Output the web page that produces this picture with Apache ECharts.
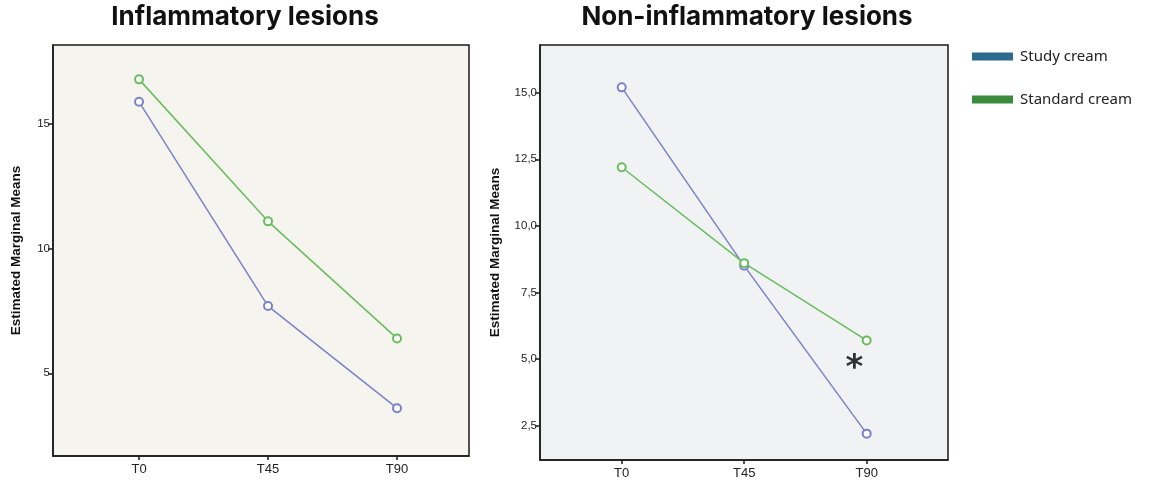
<!DOCTYPE html>
<html>
<head>
<meta charset="utf-8">
<script src="https://cdn.jsdelivr.net/npm/echarts@6/dist/echarts.min.js"></script>
<style>
  html, body { margin: 0; padding: 0; background: #ffffff; }
  #chart { width: 1150px; height: 490px; }
</style>
</head>
<body>
<div id="chart"></div>
<script>
// ---- data ----
const timepoints = ['T0', 'T45', 'T90'];
const seriesNames = ['Study cream', 'Standard cream'];
const inflStudy = [15.9, 7.7, 3.6];
const inflStandard = [16.8, 11.1, 6.4];
const nonInflStudy = [15.2, 8.5, 2.2];
const nonInflStandard = [12.2, 8.6, 5.7];
const inflTicks = [5, 10, 15];
const nonInflTicks = [2.5, 5.0, 7.5, 10.0, 12.5, 15.0];
const titles = ['Inflammatory lesions', 'Non-inflammatory lesions'];
const yAxisTitle = 'Estimated Marginal Means';
const significanceMark = { label: '*', x: 1.9, y: 4.9 };

// ---- styles ----
const blue = '#7b82c9';
const green = '#68bd5c';
const legendBlue = '#2c6b8e';
const legendGreen = '#3b8c3d';
const xIdx = [0, 1, 2];

function pairs(vals) { return vals.map((v, i) => [i, v]); }

function xAxisCfg(gridIndex, min, max) {
  return {
    type: 'value', gridIndex, min, max,
    splitLine: { show: false },
    axisLine: { show: true, onZero: false, lineStyle: { color: '#1a1a1a', width: 1.5 } },
    axisTick: { show: true, customValues: xIdx, length: 4, lineStyle: { color: '#1a1a1a', width: 1.5 } },
    axisLabel: {
      customValues: xIdx, formatter: v => timepoints[Math.round(v)] || '',
      color: '#222', fontSize: 13, fontFamily: 'Liberation Sans, Arial', margin: 7
    }
  };
}
function yAxisCfg(gridIndex, min, max, ticks, fmt, nameGap) {
  return {
    type: 'value', gridIndex, min, max,
    name: yAxisTitle, nameLocation: 'middle', nameGap,
    nameTextStyle: { fontSize: 13.5, fontWeight: 'bold', color: '#111', fontFamily: 'Liberation Sans, Arial' },
    splitLine: { show: false },
    axisLine: { show: true, onZero: false, lineStyle: { color: '#1a1a1a', width: 1.5 } },
    axisTick: { show: true, customValues: ticks, length: 5, lineStyle: { color: '#1a1a1a', width: 1.5 } },
    axisLabel: {
      customValues: ticks, formatter: fmt,
      color: '#222', fontSize: 11.5, fontFamily: 'Liberation Sans, Arial', margin: 3
    }
  };
}
function lineSeries(name, data, color, idx) {
  return {
    name, type: 'line', xAxisIndex: idx, yAxisIndex: idx, data: pairs(data),
    symbol: 'emptyCircle', symbolSize: 8,
    lineStyle: { color, width: 1.5 },
    itemStyle: { color, borderWidth: 1.5 },
    z: 3
  };
}

const chart = echarts.init(document.getElementById('chart'), null, { renderer: 'canvas' });
chart.setOption({
  animation: false,
  backgroundColor: '#ffffff',
  title: [
    { text: titles[0], left: 240, top: -1, textAlign: 'center',
      textStyle: { fontSize: 26, fontWeight: 'bold', color: '#111', fontFamily: 'Inter' } },
    { text: titles[1], left: 742, top: -1, textAlign: 'center',
      textStyle: { fontSize: 26, fontWeight: 'bold', color: '#111', fontFamily: 'Inter' } }
  ],
  legend: {
    orient: 'vertical', left: 967, top: 44, itemWidth: 41, itemHeight: 8, itemGap: 28,
    textStyle: { fontSize: 15, color: '#222', fontFamily: 'Noto Sans', padding: [0, 0, 0, 2] },
    data: [
      { name: seriesNames[0], icon: 'rect', itemStyle: { color: legendBlue } },
      { name: seriesNames[1], icon: 'rect', itemStyle: { color: legendGreen } }
    ]
  },
  grid: [
    { left: 53, top: 45, width: 416, height: 411, show: true,
      backgroundColor: '#f5f4ee', borderColor: '#1a1a1a', borderWidth: 1.5 },
    { left: 540, top: 45, width: 408, height: 415, show: true,
      backgroundColor: '#f0f2f4', borderColor: '#1a1a1a', borderWidth: 1.5 }
  ],
  xAxis: [xAxisCfg(0, -0.667, 2.558), xAxisCfg(1, -0.667, 2.664)],
  yAxis: [
    yAxisCfg(0, 1.68, 18.18, inflTicks, v => String(Math.round(v)), 30),
    yAxisCfg(1, 1.21, 16.79, nonInflTicks, v => v.toFixed(1).replace('.', ','), 38)
  ],
  series: [
    lineSeries(seriesNames[0], inflStudy, blue, 0),
    lineSeries(seriesNames[1], inflStandard, green, 0),
    lineSeries(seriesNames[0], nonInflStudy, blue, 1),
    lineSeries(seriesNames[1], nonInflStandard, green, 1),
    {
      name: 'significance', type: 'scatter', xAxisIndex: 1, yAxisIndex: 1,
      data: [[significanceMark.x, significanceMark.y]], symbolSize: 1,
      itemStyle: { color: 'rgba(0,0,0,0)' },
      label: { show: true, position: 'inside', formatter: significanceMark.label,
        fontSize: 34, fontWeight: 'bold', color: '#000', fontFamily: 'DejaVu Sans', offset: [0, 7] },
      silent: true
    }
  ]
});
</script>
</body>
</html>
